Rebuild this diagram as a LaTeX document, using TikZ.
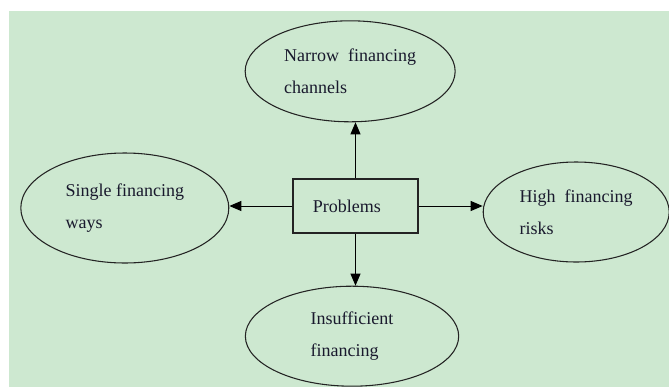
\documentclass[tikz,border=0pt]{standalone}
\usepackage{fontspec}
\setmainfont{Liberation Serif}
\usetikzlibrary{arrows.meta,positioning,shapes.geometric}
\definecolor{bggreen}{RGB}{205,232,208}
\definecolor{inkline}{RGB}{35,35,35}
\definecolor{inktext}{RGB}{25,25,45}

\begin{document}
\begin{tikzpicture}[x=0.75pt,y=-0.75pt,->,>={Triangle[length=9pt,width=7.5pt]},line width=0.75pt,
  oval/.style={ellipse,draw=inkline,line width=0.8pt,inner sep=0pt,align=left,text=inktext,font=\fontsize{13.5pt}{24pt}\selectfont},
  box/.style={rectangle,draw=inkline,line width=1pt,minimum width=93.75pt,minimum height=40.5pt,text=inktext,font=\fontsize{13.5pt}{15pt}\selectfont}]

  \useasboundingbox (0,0) rectangle (669,387);
  \fill[bggreen] (9,11) rectangle (669,387);

  \node[box] (1) at (355.5,206) {Problems\kern13pt};
  \node[oval,minimum width=157.5pt,minimum height=75.75pt] (2) [above=42pt of 1,xshift=-4pt] {Narrow\ \ financing\\channels};
  \node[oval,minimum width=156pt,minimum height=82.5pt] (3) [left=47.25pt of 1,yshift=-1.5pt] {Single financing\\ways};
  \node[oval,minimum width=139.5pt,minimum height=75pt] (4) [right=48pt of 1,yshift=-4.5pt] {High\ \ financing\\risks};
  \node[oval,minimum width=160pt,minimum height=75pt] (5) [below=39pt of 1,xshift=-2.6pt] {Insufficient\\financing};

  \draw (1.north) -- (1.north |- 2.south);
  \draw (1.west) -- (1.west -| 3.east);
  \draw (1.east) -- (1.east -| 4.west);
  \draw (1.south) -- (1.south |- 5.north);

\end{tikzpicture}
\end{document}
